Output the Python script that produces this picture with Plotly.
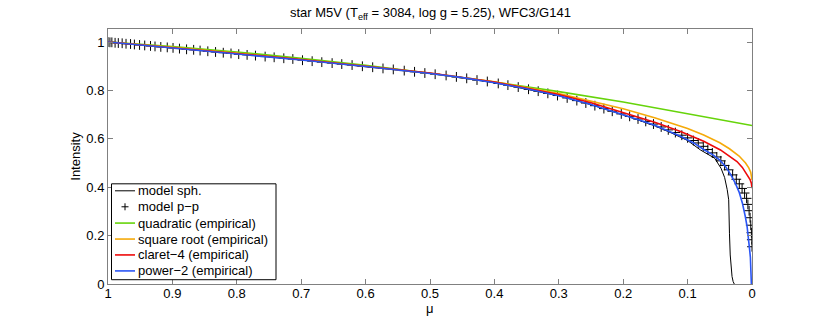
import plotly.graph_objects as go

# ---------------- data ----------------
mu_sph = [0.0275, 0.0293, 0.031, 0.0328, 0.0338, 0.035, 0.0362, 0.0385, 0.0425, 0.048,
          0.058, 0.08, 0.1, 0.125, 0.15, 0.2, 0.25, 0.3, 0.4, 0.5, 0.6, 0.7, 0.8, 0.9, 1.0]
I_sph = [0.0, 0.01, 0.031, 0.073, 0.12, 0.21, 0.348, 0.39, 0.44, 0.478,
         0.52, 0.554, 0.593, 0.624, 0.653, 0.699, 0.741, 0.778, 0.832, 0.870, 0.899, 0.926, 0.951, 0.976, 1.0]

mu_pp = [1.000, 0.997, 0.994, 0.989, 0.984, 0.978, 0.972, 0.965, 0.959, 0.951, 0.943, 0.934,
         0.927, 0.918, 0.908, 0.899, 0.889, 0.878, 0.867, 0.857, 0.845, 0.833, 0.821, 0.809,
         0.797, 0.784, 0.771, 0.756, 0.742, 0.727, 0.713, 0.698, 0.683, 0.668, 0.652, 0.637,
         0.621, 0.605, 0.589, 0.573, 0.557, 0.540, 0.524, 0.508, 0.492, 0.475, 0.459, 0.443,
         0.427, 0.411, 0.394, 0.379, 0.363, 0.347, 0.332, 0.317, 0.302, 0.287, 0.272, 0.258,
         0.244, 0.230, 0.217, 0.203, 0.190, 0.177, 0.165, 0.153, 0.141, 0.130, 0.119, 0.109,
         0.100, 0.091, 0.0834, 0.0756, 0.0686, 0.0616, 0.0547, 0.0484, 0.0425, 0.0363, 0.0301,
         0.0244, 0.0197, 0.0154, 0.0115, 0.0084, 0.0064, 0.0045, 0.0030, 0.0019, 0.0009,
         0.0003, 0.0]
I_pp = [1.000, 0.999, 0.999, 0.997, 0.996, 0.995, 0.993, 0.992, 0.990, 0.988, 0.986, 0.984,
        0.982, 0.980, 0.978, 0.976, 0.973, 0.970, 0.968, 0.965, 0.962, 0.959, 0.956, 0.953,
        0.950, 0.947, 0.944, 0.940, 0.937, 0.933, 0.930, 0.925, 0.921, 0.917, 0.913, 0.909,
        0.905, 0.900, 0.896, 0.891, 0.887, 0.882, 0.877, 0.872, 0.867, 0.862, 0.856, 0.850,
        0.843, 0.837, 0.829, 0.822, 0.814, 0.805, 0.797, 0.788, 0.779, 0.769, 0.758, 0.748,
        0.737, 0.725, 0.714, 0.703, 0.693, 0.682, 0.672, 0.661, 0.649, 0.637, 0.626, 0.615,
        0.604, 0.593, 0.583, 0.569, 0.556, 0.542, 0.525, 0.509, 0.490, 0.472, 0.451,
        0.433, 0.414, 0.395, 0.376, 0.354, 0.329, 0.303, 0.274, 0.243, 0.212,
        0.183, 0.154]

mu_quad = [0.0, 0.1, 0.2, 0.3, 0.4, 0.5, 0.6, 0.7, 0.8, 0.9, 1.0]
I_quad = [0.655, 0.705, 0.752, 0.795, 0.835, 0.871, 0.904, 0.933, 0.959, 0.981, 1.0]

mu_sqrt = [0.0, 0.0005, 0.002, 0.005, 0.01, 0.02, 0.035, 0.05, 0.075, 0.1, 0.15, 0.2,
           0.25, 0.3, 0.4, 0.5, 0.6, 0.7, 0.8, 0.9, 1.0]
I_sqrt = [0.430, 0.446, 0.462, 0.480, 0.500, 0.529, 0.559, 0.584, 0.616, 0.643, 0.686, 0.724,
          0.757, 0.787, 0.836, 0.871, 0.900, 0.928, 0.954, 0.978, 1.0]

mu_claret = [0.0, 0.0003, 0.001, 0.003, 0.0078, 0.015, 0.0233, 0.035, 0.049, 0.075, 0.111,
             0.15, 0.2, 0.25, 0.3, 0.35, 0.4, 0.5, 0.6, 0.7, 0.8, 0.9, 1.0]
I_claret = [0.396, 0.407, 0.417, 0.432, 0.451, 0.482, 0.506, 0.529, 0.554, 0.590, 0.630,
            0.668, 0.710, 0.749, 0.783, 0.810, 0.835, 0.872, 0.901, 0.928, 0.953, 0.977, 1.0]

mu_pow2 = [0.0010, 0.0016, 0.0025, 0.0037, 0.005, 0.0075, 0.0104, 0.015, 0.02, 0.026, 0.033,
           0.041, 0.05, 0.06, 0.075, 0.09, 0.11, 0.13, 0.15, 0.175, 0.2, 0.25, 0.3, 0.35,
           0.4, 0.45, 0.5, 0.55, 0.6, 0.7, 0.8, 0.9, 1.0]
I_pow2 = [0.0, 0.073, 0.11, 0.142, 0.18, 0.235, 0.279, 0.335, 0.38, 0.417, 0.452,
          0.485, 0.512, 0.533, 0.556, 0.582, 0.610, 0.632, 0.655, 0.678, 0.700, 0.742, 0.778, 0.807,
          0.832, 0.853, 0.870, 0.885, 0.899, 0.926, 0.951, 0.976, 1.0]

x_ticks = [1, 0.9, 0.8, 0.7, 0.6, 0.5, 0.4, 0.3, 0.2, 0.1, 0]
x_labels = ["1", "0.9", "0.8", "0.7", "0.6", "0.5", "0.4", "0.3", "0.2", "0.1", "0"]
y_ticks = [0, 0.2, 0.4, 0.6, 0.8, 1]
y_labels = ["0", "0.2", "0.4", "0.6", "0.8", "1"]

series_names = ["model sph.", "model p\u2212p", "quadratic (empirical)",
                "square root (empirical)", "claret\u22124 (empirical)", "power\u22122 (empirical)"]
series_colors = ["black", "black", "#66d40a", "#f5aa0a", "#ee0a0a", "#2a55f5"]

# ---------------- figure ----------------
FONT = "Liberation Sans, Arial, Helvetica, sans-serif"
FS = 13

fig = go.Figure()
fig.add_trace(go.Scatter(x=mu_sph, y=I_sph, mode="lines", name=series_names[0],
                         line=dict(color=series_colors[0], width=1)))
fig.add_trace(go.Scatter(x=mu_pp, y=I_pp, mode="markers", name=series_names[1],
                         marker=dict(symbol="cross-thin", size=7, color="black",
                                     line=dict(width=1, color="black"))))
for mu, I, nm, col in [(mu_quad, I_quad, series_names[2], series_colors[2]),
                       (mu_sqrt, I_sqrt, series_names[3], series_colors[3]),
                       (mu_claret, I_claret, series_names[4], series_colors[4]),
                       (mu_pow2, I_pow2, series_names[5], series_colors[5])]:
    fig.add_trace(go.Scatter(x=mu, y=I, mode="lines", name=nm,
                             line=dict(color=col, width=1.6)))

axis_common = dict(showline=True, linecolor="#808080", linewidth=1, mirror="ticks",
                   ticks="inside", ticklen=5, tickcolor="#808080", showgrid=False,
                   zeroline=False, tickfont=dict(family=FONT, size=FS, color="black"))

# ---- legend drawn as a boxed key (paper coordinates) ----
PL, PW, PB, PH = 108.0, 644.0, 284.3, 255.3
def px(x):
    return (x - PL) / PW
def py(y):
    return (PB - y) / PH

shapes = [dict(type="rect", xref="paper", yref="paper", x0=px(111.5), x1=px(276),
               y0=py(280), y1=py(184), line=dict(color="black", width=1),
               fillcolor="white", layer="above")]
annotations = []
row_y = [191, 207, 223.3, 239.3, 255.2, 271.2]
for i, (nm, col) in enumerate(zip(series_names, series_colors)):
    yy = row_y[i]
    if i == 1:
        shapes.append(dict(type="line", xref="paper", yref="paper", x0=px(121.5), x1=px(128.5),
                           y0=py(yy), y1=py(yy), line=dict(color="black", width=1), layer="above"))
        shapes.append(dict(type="line", xref="paper", yref="paper", x0=px(125), x1=px(125),
                           y0=py(yy - 3.5), y1=py(yy + 3.5), line=dict(color="black", width=1),
                           layer="above"))
    else:
        shapes.append(dict(type="line", xref="paper", yref="paper", x0=px(115), x1=px(135),
                           y0=py(yy), y1=py(yy),
                           line=dict(color=col, width=1 if i == 0 else 1.6), layer="above"))
    annotations.append(dict(text=nm, xref="paper", yref="paper", x=px(136), y=py(yy),
                            xanchor="left", yanchor="middle", showarrow=False,
                            font=dict(family=FONT, size=FS, color="black")))

annotations.append(dict(text="star M5V (T<sub>eff</sub> = 3084, log g = 5.25), WFC3/G141",
                        xref="paper", yref="paper", x=0.5, y=py(13), xanchor="center",
                        yanchor="middle", showarrow=False,
                        font=dict(family=FONT, size=FS, color="black")))
annotations.append(dict(text="\u03bc", xref="paper", yref="paper", x=0.5, y=py(309),
                        xanchor="center", yanchor="middle", showarrow=False,
                        font=dict(family=FONT, size=FS, color="black")))

fig.update_layout(
    width=830, height=319,
    margin=dict(l=108, r=78, t=29, b=35, autoexpand=False),
    paper_bgcolor="white", plot_bgcolor="white",
    font=dict(family=FONT, size=FS, color="black"),
    xaxis=dict(range=[1, 0], tickvals=x_ticks, ticktext=x_labels,
               ticklabelstandoff=-3, **axis_common),
    yaxis=dict(range=[0, 1.054], tickvals=y_ticks, ticktext=y_labels,
               title=dict(text="Intensity", standoff=2, font=dict(family=FONT, size=FS)),
               **axis_common),
    shapes=shapes,
    annotations=annotations,
    showlegend=False,
)

fig.write_html("out.html", config={"displayModeBar": False},
               post_script="document.body.style.margin='0px';")
